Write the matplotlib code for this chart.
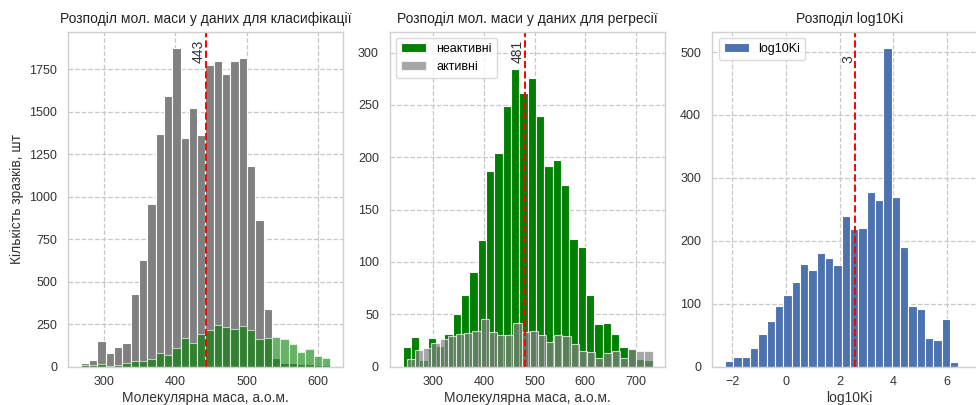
import numpy as np
import matplotlib
matplotlib.use("Agg")
from matplotlib import pyplot as plt
from matplotlib.ticker import MultipleLocator

plt.rcParams["font.family"] = ["Liberation Sans", "DejaVu Sans"]

# --- дані для класифікації (30 бінів) ---
cls_lo, cls_hi = 266.7, 617.8
cls_inactive = [22, 39, 150, 81, 114, 138, 429, 629, 960, 1372, 1593, 1878, 1347, 1524, 1361,
                1778, 1799, 1720, 1799, 1819, 1184, 865, 337, 49, 24, 22, 18, 18, 12, 8]
cls_active = [8, 8, 14, 4, 8, 20, 33, 33, 47, 79, 69, 108, 167, 138, 195,
              215, 244, 232, 220, 238, 213, 163, 167, 177, 165, 134, 89, 102, 65, 51]
cls_median = 443

# --- дані для регресії ---
reg_in_lo, reg_in_hi = 239.0, 733.0
reg_inactive = [19, 28, 6, 27, 20, 31, 50, 68, 90, 121, 187, 204, 249, 284, 261,
                276, 239, 192, 197, 174, 122, 114, 68, 41, 42, 31, 19, 17, 7, 6]
reg_act_lo, reg_act_hi = 247.6, 733.0
reg_active = [7, 16, 18, 23, 26, 29, 31, 32, 34, 46, 33, 30, 30, 42, 33,
              34, 30, 24, 30, 29, 22, 15, 14, 8, 13, 15, 8, 17, 15, 15]
reg_median = 481

# --- log10Ki ---
ki_lo, ki_hi = -2.27, 6.41
ki_counts = [9, 15, 16, 29, 52, 73, 97, 114, 134, 163, 154, 181, 172, 162,
             239, 218, 220, 278, 265, 507, 270, 190, 97, 92, 46, 42, 75, 7]
ki_median = 2.57

mass_label = "Молекулярна маса, а.о.м."
titles = ["Розподіл мол. маси у даних для класифікації",
          "Розподіл мол. маси у даних для регресії",
          "Розподіл log10Ki"]


def draw_hist(ax, lo, hi, counts, **kw):
    edges = np.linspace(lo, hi, len(counts) + 1)
    ax.bar(edges[:-1], counts, width=np.diff(edges), align="edge",
           edgecolor="white", linewidth=0.8, **kw)


def style_ax(ax):
    ax.set_axisbelow(True)
    ax.grid(True, linestyle="--", color="#c8c8c8", linewidth=0.9)
    for s in ax.spines.values():
        s.set_color("#d0d0d0")
        s.set_linewidth(1.0)
    ax.tick_params(length=0, labelsize=9, colors="#333333")
    ax.tick_params(axis="x", pad=7)
    ax.tick_params(axis="y", pad=8)


def median_line(ax, x):
    ax.axvline(x, color="red", linestyle="--", linewidth=1.4)
    ax.text(x, 0.905, f"{x:.0f}", rotation=90, ha="right", va="bottom",
            transform=ax.get_xaxis_transform(), fontsize=10, color="#333333")


fig = plt.figure(figsize=(9.76, 4.05), dpi=100)
ax1 = fig.add_axes([0.0700, 0.0946, 0.2811, 0.8272])
ax2 = fig.add_axes([0.3996, 0.0946, 0.2818, 0.8272])
ax3 = fig.add_axes([0.7298, 0.0946, 0.2815, 0.8272])

# панель 1
draw_hist(ax1, cls_lo, cls_hi, cls_inactive, color="gray")
draw_hist(ax1, cls_lo, cls_hi, cls_active, color="green", alpha=0.6)
style_ax(ax1)
ax1.xaxis.set_major_locator(MultipleLocator(100))
median_line(ax1, cls_median)
ax1.set_title(titles[0], fontsize=10, color="#222222")
ax1.set_xlabel(mass_label, fontsize=10, color="#333333", labelpad=2)
ax1.set_ylabel("Кількість зразків, шт", fontsize=10, color="#333333")

# панель 2
draw_hist(ax2, reg_in_lo, reg_in_hi, reg_inactive, color="green", label="неактивні")
draw_hist(ax2, reg_act_lo, reg_act_hi, reg_active, color="gray", alpha=0.7, label="активні")
style_ax(ax2)
median_line(ax2, reg_median)
ax2.set_ylim(0, 320)
ax2.set_title(titles[1], fontsize=10, color="#222222")
ax2.set_xlabel(mass_label, fontsize=10, color="#333333", labelpad=2)
ax2.legend(loc="upper left", fontsize=9, frameon=True, edgecolor="#d0d0d0")

# панель 3
draw_hist(ax3, ki_lo, ki_hi, ki_counts, color="#4C72B0", label="log10Ki")
style_ax(ax3)
median_line(ax3, ki_median)
ax3.set_xlim(-2.74, 7.48)
ax3.set_title(titles[2], fontsize=10, color="#222222")
ax3.set_xlabel("log10Ki", fontsize=10, color="#333333", labelpad=2)
ax3.legend(loc="upper left", fontsize=9, frameon=True, edgecolor="#d0d0d0")

fig.savefig("out.png", dpi=100)
plt.close(fig)
